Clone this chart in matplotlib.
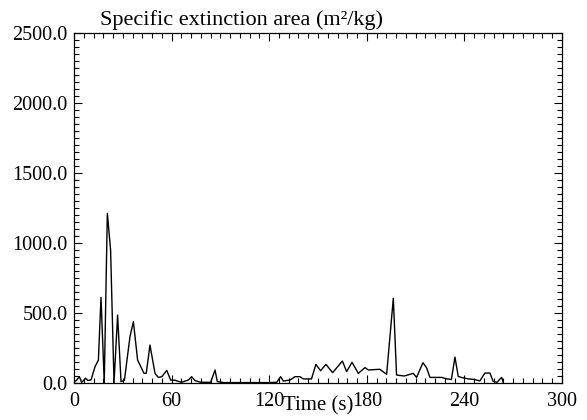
import matplotlib
matplotlib.use("Agg")
import matplotlib.pyplot as plt
from matplotlib.ticker import MultipleLocator, FormatStrFormatter

plt.rcParams['font.family'] = ['Liberation Serif', 'DejaVu Serif']

time_s = [0.5, 1.6, 3.3, 4.7, 7.2, 8.5, 10.5, 12.9, 15.0, 16.6, 18.6, 20.5, 22.5,
          24.6, 26.8, 28.9, 31.0, 34.4, 36.5, 39.1, 43.0, 44.4, 46.7, 49.8, 51.8,
          54.0, 57.0, 59.4, 62.0, 66.0, 70.3, 72.3, 74.4, 78.0, 84.0, 86.7, 88.1,
          92.0, 100.0, 110.0, 120.0, 124.6, 127.0, 128.7, 132.8, 135.8, 138.9,
          141.0, 146.0, 148.7, 151.6, 154.9, 159.0, 165.0, 167.6, 170.9, 174.8,
          178.9, 180.9, 188.0, 192.2, 196.3, 198.3, 203.0, 206.0, 208.5, 210.6,
          214.5, 216.7, 218.8, 226.0, 229.0, 232.0, 234.2, 236.2, 238.0, 242.0,
          246.0, 249.5, 252.6, 255.7, 257.7, 260.0, 262.9, 264.0]
sea = [10, 20, 45, 5, 34, 18, 22, 116, 164, 612, 0, 1212, 950,
       0, 485, 10, 20, 330, 438, 164, 69, 69, 271, 69, 40,
       45, 90, 21, 20, 5, 21, 45, 17, 5, 5, 93, 10,
       3, 3, 3, 3, 5, 45, 14, 21, 45, 45,
       29, 29, 133, 88, 133, 74, 157, 81, 148, 69,
       110, 93, 98, 62, 605, 57, 50, 60, 69, 40,
       145, 110, 40, 40, 30, 25, 185, 47, 40, 30,
       25, 15, 71, 71, 11, 5, 40, 0]

title_text = "Specific extinction area (m\u00b2/kg)"
xlabel_text = "Time (s)"

fig = plt.figure(figsize=(5.87, 4.20), dpi=100)
ax = fig.add_axes([74/587, 1-383/420, (562-74)/587, (383-33)/420])
ax.plot(time_s, sea, color='black', linewidth=1.0)
ax.set_xlim(0, 300)
ax.set_ylim(0, 2500)
ax.xaxis.set_major_locator(MultipleLocator(60))
ax.xaxis.set_minor_locator(MultipleLocator(6))
ax.yaxis.set_major_locator(MultipleLocator(500))
ax.yaxis.set_minor_locator(MultipleLocator(50))
ax.yaxis.set_major_formatter(FormatStrFormatter('%.1f'))
ax.tick_params(which='both', direction='in', top=True, right=True, labelsize=14.5, width=0.8)
ax.tick_params(which='major', length=6)
ax.tick_params(which='minor', length=3.6)
ax.tick_params(axis='y', pad=4.5)
ax.tick_params(axis='x', pad=6.5)
for lab in ax.get_yticklabels():
    lab.set_verticalalignment('center_baseline')
for s in ax.spines.values():
    s.set_linewidth(0.9)
ax.set_xlabel(xlabel_text, fontsize=15, va='top')
ax.xaxis.set_label_coords(0.5, -0.038)
fig.text(100/587, 1-25/420, title_text, fontsize=16, ha='left', va='baseline')
fig.savefig('out.png', dpi=100)
